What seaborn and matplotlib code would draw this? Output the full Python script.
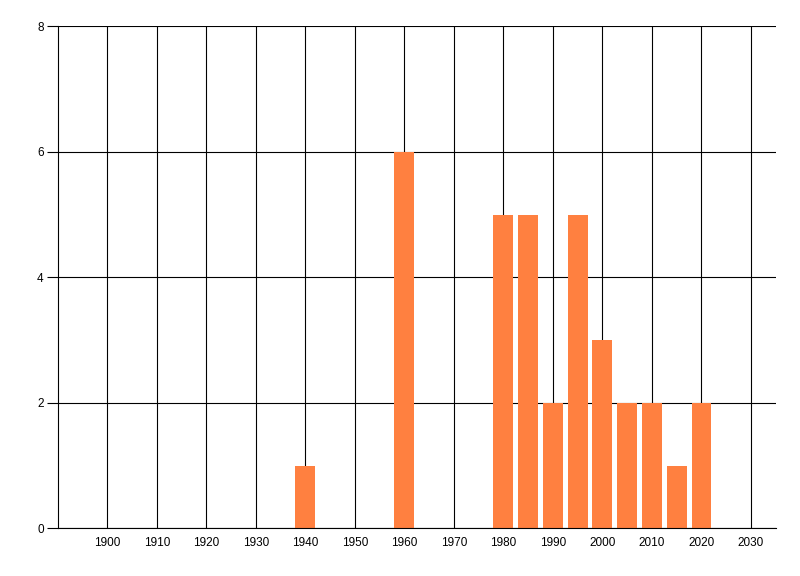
import matplotlib
matplotlib.use("Agg")
import matplotlib.pyplot as plt
import seaborn as sns
import pandas as pd

years = [1940, 1960, 1980, 1985, 1990, 1995, 2000, 2005, 2010, 2015, 2020]
counts = [1, 6, 5, 5, 2, 5, 3, 2, 2, 1, 2]
xticks = list(range(1900, 2031, 10))
yticks = [0, 2, 4, 6, 8]

sns.set_style("white")
plt.rcParams['font.family'] = ['Liberation Sans', 'DejaVu Sans']

fig = plt.figure(figsize=(8, 5.76), dpi=100)
ax = fig.add_axes([57.7/800, 1 - 528.3/576, (775.7-57.7)/800, (528.3-26.3)/576])

df = pd.DataFrame({"year": years, "count": counts})
sns.barplot(data=df, x="year", y="count", native_scale=True, width=0.8,
            color="#FF8040", saturation=1, ax=ax, zorder=3, edgecolor="none", linewidth=0)

ax.set_xlim(1890, 2035)
ax.set_ylim(0, 8)
ax.set_xticks(xticks)
ax.set_xticklabels([str(t) for t in xticks])
ax.set_yticks(yticks)
ax.set_yticklabels([str(t) for t in yticks])
ax.set_xlabel("")
ax.set_ylabel("")

ax.grid(True, color="black", linewidth=0.8, zorder=0)
ax.set_axisbelow(True)
for s in ["top", "right"]:
    ax.spines[s].set_visible(False)
for s in ["left", "bottom"]:
    ax.spines[s].set_color("black")
    ax.spines[s].set_linewidth(0.8)
    ax.spines[s].set_zorder(4)

ax.tick_params(axis="x", length=0, pad=6, labelsize=8.5, colors="black")
ax.tick_params(axis="y", length=8, width=0.8, pad=2, labelsize=8.5, colors="black", left=True)

fig.savefig("out.png", dpi=100)
